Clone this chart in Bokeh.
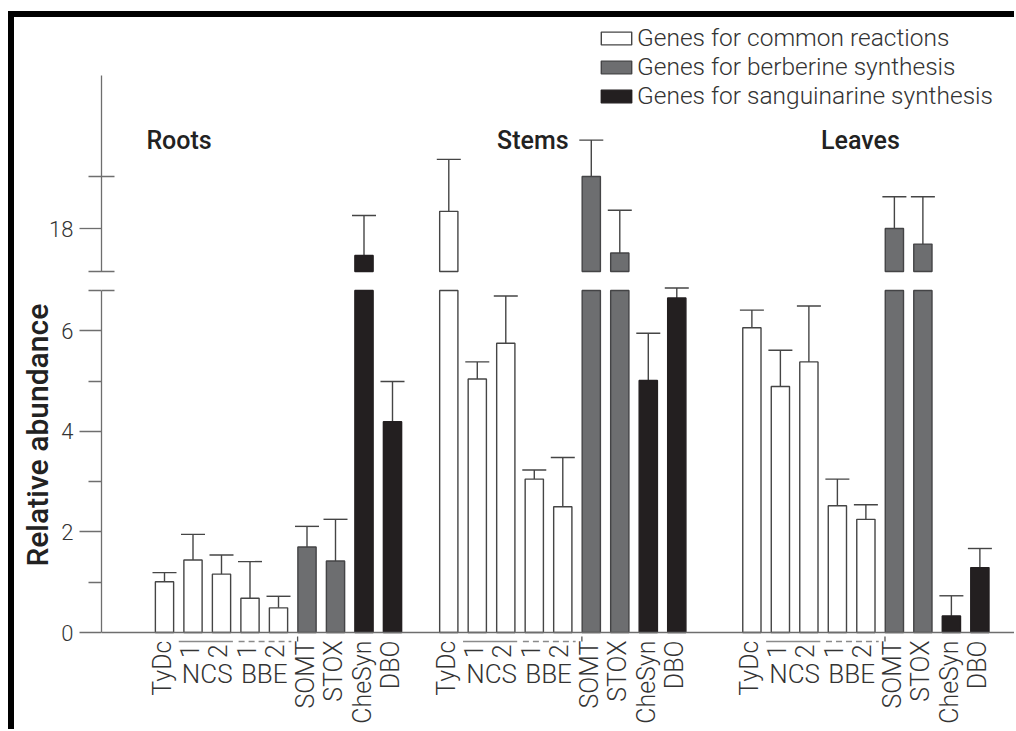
import math
import pandas as pd
from bokeh.plotting import figure
from bokeh.models import (ColumnDataSource, Range1d, FixedTicker, Title,
                          Whisker, TeeHead, Span, Legend, LegendItem)
from bokeh.layouts import column
from bokeh.core.properties import value
from bokeh.embed import file_html
from bokeh.resources import INLINE

# ---------------- data ----------------
TISSUES = ["Roots", "Stems", "Leaves"]
GENES = ["TyDc", "NCS1", "NCS2", "BBE1", "BBE2", "SOMT", "STOX", "CheSyn", "DBO"]
GENE_TICKS = ["TyDc", "1", "2", "1", "2", "SOMT", "STOX", "CheSyn", "DBO"]
GENE_CLASS = ["common"] * 5 + ["berberine"] * 2 + ["sanguinarine"] * 2
CLASSES = ["common", "berberine", "sanguinarine"]
CLASS_LABELS = ["Genes for common reactions", "Genes for berberine synthesis",
                "Genes for sanguinarine synthesis"]
PAIR_LABELS = ["NCS", "BBE"]
PAIR_MEMBERS = [("NCS1", "NCS2"), ("BBE1", "BBE2")]

ROOTS_MEAN = [1.01, 1.44, 1.16, 0.68, 0.49, 1.70, 1.42, 17.48, 4.19]
ROOTS_SD = [0.18, 0.51, 0.38, 0.73, 0.23, 0.41, 0.83, 0.77, 0.80]
STEMS_MEAN = [18.33, 5.04, 5.75, 3.05, 2.50, 19.00, 17.53, 5.01, 6.65]
STEMS_SD = [1.00, 0.34, 0.94, 0.18, 0.98, 0.70, 0.82, 0.94, 0.20]
LEAVES_MEAN = [6.06, 4.89, 5.38, 2.52, 2.25, 18.00, 17.70, 0.33, 1.29]
LEAVES_SD = [0.35, 0.72, 1.11, 0.53, 0.29, 0.61, 0.91, 0.40, 0.38]

Y_MAJOR_LOWER = [0, 2, 4, 6]
Y_MINOR_LOWER = [1, 3, 5]
Y_MAJOR_UPPER = [18]
Y_MINOR_UPPER = [19]
Y_LABEL = "Relative abundance"

# ---------------- layout / style ----------------
FONT_NAME = "Roboto Light"
FONT = value(FONT_NAME)
FONT_M_NAME = "Roboto Medium"
FONT_M = value(FONT_M_NAME)
TEXT = "#333333"
AXIS = "#6e6e6e"
FILL = {"common": "white", "berberine": "#6d6e70", "sanguinarine": "#231f20"}
LINE = {"common": "#454545", "berberine": "#444446", "sanguinarine": "#231f20"}

FIG_W = 1000
BORDER_L = 87
SLOT = 28.5
X_START = -63 / SLOT
X_END = X_START + (FIG_W - BORDER_L) / SLOT
GROUP_OFFSET = [0.0, 9.975, 20.61]
TITLE_DX = [0.51, 2.95, 3.81]
BAR_W = 0.64

UP_H, UP_MB, UP_PX, UP_18 = 259, 3, 52.0, 211
up_frame_h = UP_H - UP_MB
UP_TOP = 18 + UP_18 / UP_PX
UP_BOT = 18 - (up_frame_h - UP_18) / UP_PX
UPPER_BASE = 18 - (up_frame_h - 2 - UP_18) / UP_PX
UP_AXIS_TOP = 18 + (UP_18 - 58) / UP_PX
TITLE_Y = 18 + (UP_18 - 123) / UP_PX

LO_H, LO_MT, LO_PX, LO_ZERO = 453, 9, 50.3, 347
lo_frame_h = LO_H - LO_MT
LO_TOP = LO_ZERO / LO_PX
LO_BOT = -(lo_frame_h - LO_ZERO) / LO_PX
LOWER_CAP = (LO_ZERO - 5) / LO_PX
TICK_Y = -8 / LO_PX
DIGIT_Y = -12 / LO_PX
PAIR_Y = -41 / LO_PX
BRACKET_Y = -9 / LO_PX
YLABEL_OFFSET = (LO_MT + lo_frame_h) - (566 - 276)   # label starts 566px down the page

rows = []
for g, (tissue, means, sds) in enumerate(zip(TISSUES, [ROOTS_MEAN, STEMS_MEAN, LEAVES_MEAN],
                                             [ROOTS_SD, STEMS_SD, LEAVES_SD])):
    for i, gene in enumerate(GENES):
        rows.append(dict(tissue=tissue, gene=gene, tick=GENE_TICKS[i], cls=GENE_CLASS[i],
                         x=GROUP_OFFSET[g] + i, mean=means[i], sd=sds[i]))
df = pd.DataFrame(rows)
df["err"] = df["mean"] + df["sd"]
df["low_top"] = df["mean"].clip(upper=LOWER_CAP)
df["is_digit"] = df["tick"].str.isdigit()


def make_fig(h, yr, mt, mb):
    p = figure(width=FIG_W, height=h, x_range=Range1d(X_START, X_END), y_range=yr,
               output_backend="svg", toolbar_location=None, x_axis_location=None,
               min_border_left=BORDER_L, min_border_right=0, min_border_top=mt,
               min_border_bottom=mb)
    p.outline_line_color = None
    p.xgrid.visible = False
    p.ygrid.visible = False
    p.background_fill_color = "white"
    p.border_fill_color = "white"
    ax = p.yaxis[0]
    ax.axis_line_color = AXIS
    ax.axis_line_width = 1.3
    ax.major_tick_line_color = AXIS
    ax.minor_tick_line_color = AXIS
    ax.major_tick_line_width = 1.3
    ax.minor_tick_line_width = 1.3
    ax.major_tick_out = 22
    ax.major_tick_in = 0
    ax.minor_tick_out = 13
    ax.minor_tick_in = 0
    ax.major_label_standoff = 6
    ax.major_label_text_font = FONT_NAME
    ax.major_label_text_font_size = "22px"
    ax.major_label_text_color = TEXT
    return p


# ---------- upper (broken) panel ----------
p_up = make_fig(UP_H, Range1d(UP_BOT, UP_TOP), 0, UP_MB)
p_up.yaxis[0].ticker = FixedTicker(ticks=Y_MAJOR_UPPER, minor_ticks=[UPPER_BASE] + Y_MINOR_UPPER)
p_up.yaxis[0].bounds = (UPPER_BASE - 0.002, UP_AXIS_TOP)
p_up.yaxis[0].minor_tick_in = 13

up_df = df[df["mean"] > UPPER_BASE]
legend_items = []
for cls, lab in zip(CLASSES, CLASS_LABELS):
    sub = up_df[up_df["cls"] == cls]
    src = ColumnDataSource(sub)
    r = p_up.vbar(x="x", width=BAR_W, bottom=UPPER_BASE, top="mean", source=src,
                  fill_color=FILL[cls], line_color=LINE[cls], line_width=1.4)
    legend_items.append(LegendItem(label=lab, renderers=[r]))
up_src = ColumnDataSource(up_df)
p_up.add_layout(Whisker(source=up_src, base="x", lower="mean", upper="err",
                        line_color="#454545", line_width=1.4, lower_head=None,
                        upper_head=TeeHead(size=24, line_color="#454545", line_width=1.4)))
p_up.text(x=[GROUP_OFFSET[g] + TITLE_DX[g] for g in range(3)], y=TITLE_Y, text=TISSUES,
          text_align="center", text_baseline="middle", text_font=FONT_M,
          text_font_size=value("25px"), text_color="#222222")

legend = Legend(items=legend_items, location=(496, 163), orientation="vertical",
                glyph_width=38, glyph_height=16, label_standoff=2, spacing=-2,
                padding=0, margin=0, border_line_color=None, background_fill_alpha=0,
                label_text_font=FONT_NAME, label_text_font_size="24.5px",
                label_text_color=TEXT, label_height=16)
p_up.add_layout(legend)

# ---------- lower panel ----------
p_lo = make_fig(LO_H, Range1d(LO_BOT, LO_TOP), LO_MT, 0)
p_lo.yaxis[0].ticker = FixedTicker(ticks=Y_MAJOR_LOWER, minor_ticks=Y_MINOR_LOWER + [LOWER_CAP])
p_lo.yaxis[0].bounds = (0, LOWER_CAP + 0.002)
p_lo.add_layout(Title(text=Y_LABEL, align="left", offset=YLABEL_OFFSET, standoff=7,
                      text_font=FONT_M_NAME, text_font_size="30px",
                      text_line_height=0.75, text_color="#222222"), "left")

for cls in CLASSES:
    src = ColumnDataSource(df[df["cls"] == cls])
    p_lo.vbar(x="x", width=BAR_W, bottom=0, top="low_top", source=src,
              fill_color=FILL[cls], line_color=LINE[cls], line_width=1.4)
lo_src = ColumnDataSource(df[df["mean"] < LOWER_CAP])
p_lo.add_layout(Whisker(source=lo_src, base="x", lower="mean", upper="err",
                        line_color="#454545", line_width=1.4, lower_head=None,
                        upper_head=TeeHead(size=24, line_color="#454545", line_width=1.4)))
p_lo.add_layout(Span(location=0, dimension="width", line_color=AXIS, line_width=1.3))
p_lo.segment(x0=[X_START], y0=[LOWER_CAP], x1=[X_START + 13 / SLOT], y1=[LOWER_CAP],
             line_color=AXIS, line_width=1.3)

# category labels
names = df[~df["is_digit"]]
digits = df[df["is_digit"]]
p_lo.text(x=names["x"], y=TICK_Y, text=names["tick"], angle=math.pi / 2, text_align="right",
          text_baseline="middle", x_offset=-2, text_font=FONT,
          text_font_size=value("25px"), text_color=TEXT)
p_lo.text(x=digits["x"], y=DIGIT_Y, text=digits["tick"], angle=math.pi / 2, text_align="right",
          text_baseline="middle", x_offset=-4, text_font=FONT,
          text_font_size=value("25px"), text_color=TEXT)

pair_x, pair_t, s0, s1, d0, d1, sep = [], [], [], [], [], [], []
for g in range(3):
    xs = dict(zip(GENES, [GROUP_OFFSET[g] + i for i in range(len(GENES))]))
    for k, (a, b) in enumerate(PAIR_MEMBERS):
        pair_x.append((xs[a] + xs[b]) / 2)
        pair_t.append(PAIR_LABELS[k])
    s0.append(xs["NCS1"] - 0.5)
    s1.append(xs["NCS2"] + 0.4)
    d0.append(xs["BBE1"] - 0.4)
    d1.append(xs["BBE2"] + 0.45)
    sep.append(xs["SOMT"] - 0.33)
p_lo.text(x=pair_x, y=PAIR_Y, text=pair_t, text_align="center", text_baseline="middle",
          text_font=FONT, text_font_size=value("26px"), text_color=TEXT)
p_lo.segment(x0=s0, y0=BRACKET_Y, x1=s1, y1=BRACKET_Y, line_color="#8a8a8a", line_width=1.3)
p_lo.segment(x0=d0, y0=BRACKET_Y, x1=d1, y1=BRACKET_Y, line_color="#8a8a8a", line_width=1.3,
             line_dash="6 4")
p_lo.segment(x0=sep, y0=-4 / LO_PX, x1=sep, y1=-9 / LO_PX, line_color="#555555",
             line_width=1.3)

layout = column(p_up, p_lo, styles={"border-top": "6px solid black",
                                    "border-left": "6px solid black",
                                    "margin": "11px 0px 0px 8px"})

open("out.html", "w").write(file_html(layout, INLINE))
